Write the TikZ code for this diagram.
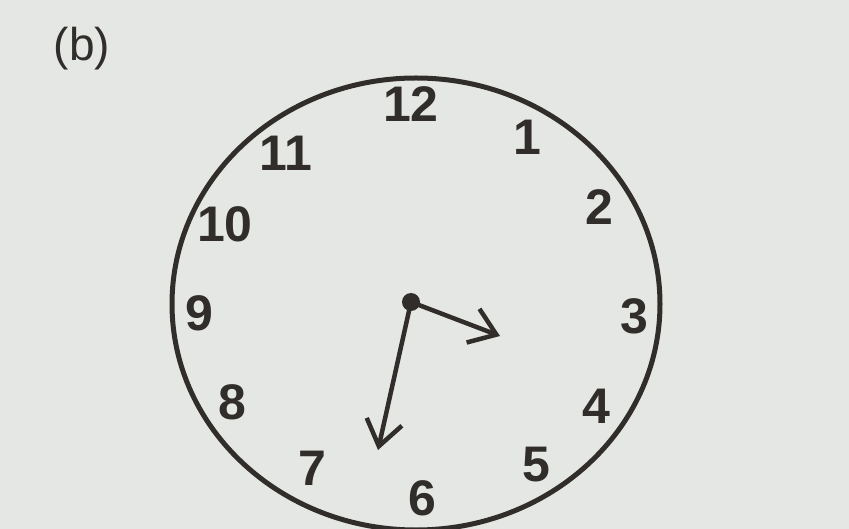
\documentclass[tikz,border=0pt]{standalone}
\usepackage{fontspec}
\setmainfont{Liberation Sans}
\usetikzlibrary{arrows.meta}
\definecolor{paper}{RGB}{229,231,228}
\definecolor{ink}{RGB}{48,45,42}
\tikzset{
  num/.style={font=\fontsize{50}{56}\selectfont\bfseries, text=ink, inner sep=0pt},
  hand/.style={draw=ink, line width=4.5pt, -{Straight Barb[length=25pt,width=36pt,line width=4.5pt]}},
}
\begin{document}
\begin{tikzpicture}[x=1pt,y=-1pt]
\fill[paper] (0,0) rectangle (849,529);
\useasboundingbox (0,0) rectangle (849,529);
\node[font=\fontsize{46}{50}\selectfont, text=ink, inner sep=0pt] (lbl) at (82,49) {(b)};
\draw[ink, line width=5pt] (416,304) ellipse [x radius=244, y radius=226];
\node[num] (n12) at (411,104) {12};
\node[num] (n1) at (527,137) {1};
\node[num] (n2) at (599,207) {2};
\node[num] (n3) at (634,316) {3};
\node[num] (n4) at (596,406) {4};
\node[num] (n5) at (536,465) {5};
\node[num] (n6) at (422,498) {6};
\node[num] (n7) at (312,468) {7};
\node[num] (n8) at (232,402) {8};
\node[num] (n9) at (199,313) {9};
\node[num] (n10) at (225,224) {10};
\node[num] (n11) at (286,153) {11};
\coordinate (hub) at (411,302);
\coordinate (htip) at (500,336);
\coordinate (mtip) at (378,450);
\draw[hand] (hub) -- (htip);
\draw[hand] (hub) -- (mtip);
\fill[ink] (hub) circle (9);
\end{tikzpicture}
\end{document}
